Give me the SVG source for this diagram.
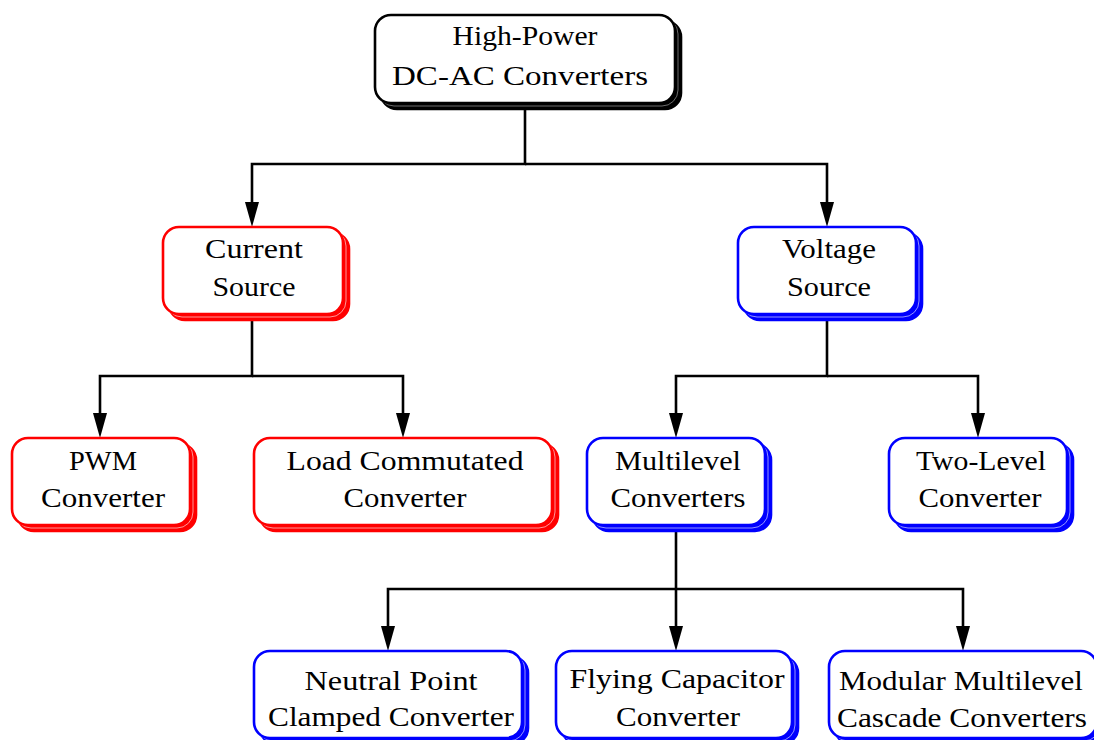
<svg xmlns="http://www.w3.org/2000/svg" width="1094" height="740" viewBox="0 0 1094 740">
<style>
.t{font-family:"Liberation Serif","Times New Roman",serif;font-size:28px;fill:#000;text-anchor:middle}
.box{fill:#fff;stroke-width:2.6}
.k .box{stroke:#000}.k .s2{fill:#000;stroke:#000;stroke-width:2.6}.k .s1{fill:#000;stroke:#888;stroke-width:0.8}
.r .box{stroke:#f00}.r .s2{fill:#f00;stroke:#f00;stroke-width:2.6}.r .s1{fill:#f00;stroke:#fbb;stroke-width:0.8}
.b .box{stroke:#00f}.b .s2{fill:#00f;stroke:#00f;stroke-width:2.6}.b .s1{fill:#00f;stroke:#bbf;stroke-width:0.8}
.c{fill:none;stroke:#000;stroke-width:2.6;marker-end:url(#ah)}
</style>
<defs>
<marker id="ah" markerUnits="userSpaceOnUse" markerWidth="26" markerHeight="16" refX="15" refY="8" orient="auto" viewBox="0 0 26 16">
<path d="M0,1 L25,8 L0,15 z" fill="#000"/>
</marker>
</defs>
<g id="connectors">
<path class="c" d="M525,103 V164 H252 V217"/>
<path class="c" d="M525,164 H827 V217"/>
<path class="c" d="M252,314 V376 H100 V428"/>
<path class="c" d="M252,376 H403 V428"/>
<path class="c" d="M827,314 V376 H676 V428"/>
<path class="c" d="M827,376 H978 V428"/>
<path class="c" d="M676,525 V641"/>
<path class="c" d="M676,589 H388 V641"/>
<path class="c" d="M676,589 H963 V641"/>
</g>
<g id="n-top" class="k">
<rect class="s2" x="381" y="21" width="300" height="88" rx="16"/>
<rect class="s1" x="378" y="18" width="300" height="88" rx="16"/>
<rect class="box" x="375" y="15" width="300" height="88" rx="16"/>
<text class="t" x="525" y="45" textLength="145" lengthAdjust="spacingAndGlyphs">High-Power</text>
<text class="t" x="520" y="85" textLength="256" lengthAdjust="spacingAndGlyphs">DC-AC Converters</text>
</g>
<g id="n-current" class="r">
<rect class="s2" x="169" y="233" width="180" height="87" rx="16"/>
<rect class="s1" x="166" y="230" width="180" height="87" rx="16"/>
<rect class="box" x="163" y="227" width="180" height="87" rx="16"/>
<text class="t" x="254" y="258" textLength="98" lengthAdjust="spacingAndGlyphs">Current</text>
<text class="t" x="254" y="296" textLength="83" lengthAdjust="spacingAndGlyphs">Source</text>
</g>
<g id="n-voltage" class="b">
<rect class="s2" x="744" y="233" width="178" height="87" rx="16"/>
<rect class="s1" x="741" y="230" width="178" height="87" rx="16"/>
<rect class="box" x="738" y="227" width="178" height="87" rx="16"/>
<text class="t" x="829" y="258" textLength="94" lengthAdjust="spacingAndGlyphs">Voltage</text>
<text class="t" x="829" y="296" textLength="84" lengthAdjust="spacingAndGlyphs">Source</text>
</g>
<g id="n-pwm" class="r">
<rect class="s2" x="18" y="444" width="178" height="87" rx="16"/>
<rect class="s1" x="15" y="441" width="178" height="87" rx="16"/>
<rect class="box" x="12" y="438" width="178" height="87" rx="16"/>
<text class="t" x="103" y="470" textLength="68" lengthAdjust="spacingAndGlyphs">PWM</text>
<text class="t" x="103" y="507" textLength="124" lengthAdjust="spacingAndGlyphs">Converter</text>
</g>
<g id="n-lcc" class="r">
<rect class="s2" x="260" y="444" width="298" height="87" rx="16"/>
<rect class="s1" x="257" y="441" width="298" height="87" rx="16"/>
<rect class="box" x="254" y="438" width="298" height="87" rx="16"/>
<text class="t" x="405" y="470" textLength="237" lengthAdjust="spacingAndGlyphs">Load Commutated</text>
<text class="t" x="405" y="507" textLength="123" lengthAdjust="spacingAndGlyphs">Converter</text>
</g>
<g id="n-multilevel" class="b">
<rect class="s2" x="593" y="444" width="178" height="87" rx="16"/>
<rect class="s1" x="590" y="441" width="178" height="87" rx="16"/>
<rect class="box" x="587" y="438" width="178" height="87" rx="16"/>
<text class="t" x="678" y="470" textLength="126" lengthAdjust="spacingAndGlyphs">Multilevel</text>
<text class="t" x="678" y="507" textLength="135" lengthAdjust="spacingAndGlyphs">Converters</text>
</g>
<g id="n-twolevel" class="b">
<rect class="s2" x="895" y="444" width="178" height="87" rx="16"/>
<rect class="s1" x="892" y="441" width="178" height="87" rx="16"/>
<rect class="box" x="889" y="438" width="178" height="87" rx="16"/>
<text class="t" x="981" y="470" textLength="130" lengthAdjust="spacingAndGlyphs">Two-Level</text>
<text class="t" x="980" y="507" textLength="123" lengthAdjust="spacingAndGlyphs">Converter</text>
</g>
<g id="n-npc" class="b">
<rect class="s2" x="260" y="657" width="268" height="87" rx="16"/>
<rect class="s1" x="257" y="654" width="268" height="87" rx="16"/>
<rect class="box" x="254" y="651" width="268" height="87" rx="16"/>
<text class="t" x="391" y="690" textLength="173" lengthAdjust="spacingAndGlyphs">Neutral Point</text>
<text class="t" x="391" y="726" textLength="246" lengthAdjust="spacingAndGlyphs">Clamped Converter</text>
</g>
<g id="n-fc" class="b">
<rect class="s2" x="562" y="657" width="236" height="87" rx="16"/>
<rect class="s1" x="559" y="654" width="236" height="87" rx="16"/>
<rect class="box" x="556" y="651" width="236" height="87" rx="16"/>
<text class="t" x="677" y="688" textLength="215" lengthAdjust="spacingAndGlyphs">Flying Capacitor</text>
<text class="t" x="678" y="726" textLength="124" lengthAdjust="spacingAndGlyphs">Converter</text>
</g>
<g id="n-mmc" class="b">
<rect class="s2" x="835" y="657" width="268" height="87" rx="16"/>
<rect class="s1" x="832" y="654" width="268" height="87" rx="16"/>
<rect class="box" x="829" y="651" width="268" height="87" rx="16"/>
<text class="t" x="961" y="690" textLength="244" lengthAdjust="spacingAndGlyphs">Modular Multilevel</text>
<text class="t" x="962" y="727" textLength="250" lengthAdjust="spacingAndGlyphs">Cascade Converters</text>
</g>
</svg>
